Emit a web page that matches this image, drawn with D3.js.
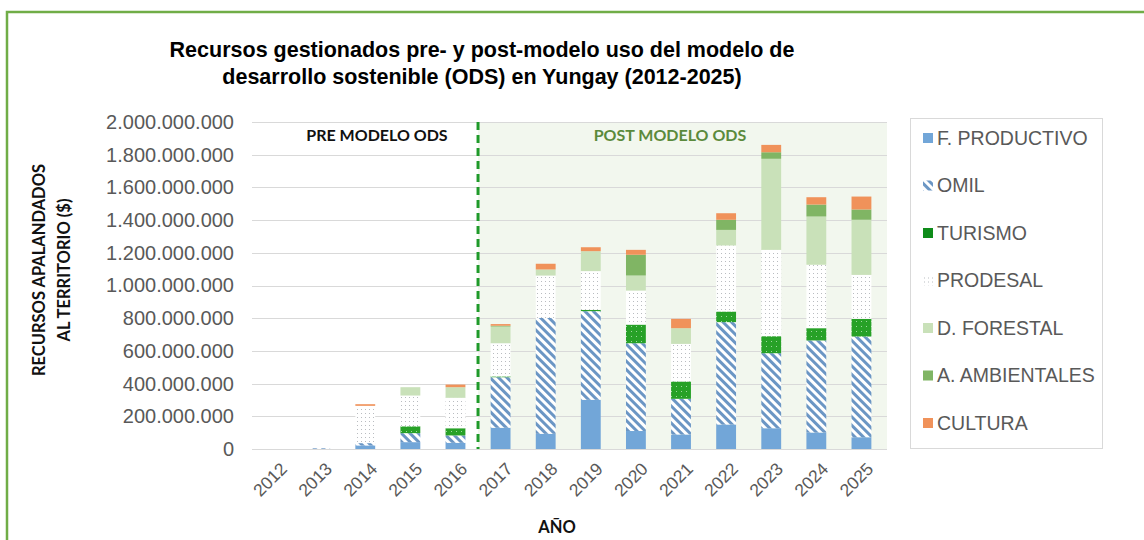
<!DOCTYPE html>
<meta charset="utf-8">
<script src="https://d3js.org/d3.v7.min.js"></script>
<style>
  body { margin: 0; background: #fff; }
  text { font-family: "Liberation Sans", Arial, sans-serif; }
</style>
<div id="chart"></div>
<script>
// data (millones de pesos)
var years = ["2012","2013","2014","2015","2016","2017","2018","2019","2020","2021","2022","2023","2024","2025"];
var fProductivo = [0, 0, 22, 42, 38, 130, 93, 301, 110, 89, 150, 127, 101, 72];
var omil        = [0, 5, 14, 55, 45, 309, 709, 542, 537, 218, 626, 459, 563, 616];
var turismo     = [0, 0, 0, 42, 44, 5, 0, 8, 114, 106, 65, 104, 75, 108];
var prodesal    = [0, 3, 228, 188, 186, 203, 259, 237, 208, 230, 404, 528, 388, 269];
var forestal    = [0, 0, 0, 51, 65, 102, 37, 122, 92, 96, 95, 557, 295, 337];
var ambientales = [0, 0, 0, 0, 0, 5, 0, 0, 127, 0, 62, 40, 73, 63];
var cultura     = [0, 0, 10, 0, 16, 10, 35, 24, 30, 57, 40, 45, 45, 79];
var seriesNames = ["F. PRODUCTIVO","OMIL","TURISMO","PRODESAL","D. FORESTAL","A. AMBIENTALES","CULTURA"];
var yTicks = [0, 2e8, 4e8, 6e8, 8e8, 1e9, 1.2e9, 1.4e9, 1.6e9, 1.8e9, 2e9];

var allSeries = [fProductivo, omil, turismo, prodesal, forestal, ambientales, cultura];
var rows = years.map(function(y, i) {
  var r = {year: y};
  seriesNames.forEach(function(n, k) { r[n] = allSeries[k][i] * 1e6; });
  return r;
});

var W = 1144, H = 540;
var svg = d3.select("#chart").append("svg").attr("width", W).attr("height", H);
svg.append("rect").attr("width", W).attr("height", H).attr("fill", "#fff");

// patterns
var defs = svg.append("defs");
var pOmil = defs.append("pattern").attr("id", "pOmil").attr("patternUnits", "userSpaceOnUse")
  .attr("width", 6).attr("height", 6).attr("patternTransform", "rotate(-45)");
pOmil.append("rect").attr("width", 6).attr("height", 6).attr("fill", "#fff");
pOmil.append("rect").attr("width", 3).attr("height", 6).attr("fill", "#6b96c4");

var pTur = defs.append("pattern").attr("id", "pTur").attr("patternUnits", "userSpaceOnUse")
  .attr("width", 5).attr("height", 5);
pTur.append("rect").attr("width", 5).attr("height", 5).attr("fill", "#27a127");
pTur.append("rect").attr("x", 1).attr("y", 1).attr("width", 1).attr("height", 1).attr("fill", "#9fd89f");

var pPro = defs.append("pattern").attr("id", "pPro").attr("patternUnits", "userSpaceOnUse")
  .attr("width", 4).attr("height", 4);
pPro.append("rect").attr("width", 4).attr("height", 4).attr("fill", "#fff");
pPro.append("rect").attr("x", 1).attr("y", 1).attr("width", 1).attr("height", 1).attr("fill", "#b9bcc0");

var fills = {
  "F. PRODUCTIVO": "#72a6d8",
  "OMIL": "url(#pOmil)",
  "TURISMO": "url(#pTur)",
  "PRODESAL": "url(#pPro)",
  "D. FORESTAL": "#c9e1b9",
  "A. AMBIENTALES": "#80b564",
  "CULTURA": "#f0925a"
};

// frame
svg.append("path").attr("d", "M7,600 L7,12 L1200,12")
  .attr("fill", "none").attr("stroke", "#70ad47").attr("stroke-width", 2.5);

// scales
var x = d3.scaleBand().domain(years).range([252.5, 884]).paddingInner(0.56).paddingOuter(0.28);
var y = d3.scaleLinear().domain([0, 2e9]).range([449, 122]);

// post-model shading
var splitX = x("2017") - (x.step() - x.bandwidth()) / 2;
svg.append("rect").attr("x", splitX).attr("y", y(2e9)).attr("width", 887 - splitX)
  .attr("height", y(0) - y(2e9)).attr("fill", "#f2f7ee");

// grid
var loc = d3.formatLocale({decimal: ",", thousands: ".", grouping: [3], currency: ["$", ""]});
var fmt = loc.format(",.0f");
svg.append("g").selectAll("line").data(yTicks).join("line")
  .attr("x1", 252).attr("x2", 887)
  .attr("y1", function(d) { return Math.round(y(d)) + 0.5; })
  .attr("y2", function(d) { return Math.round(y(d)) + 0.5; })
  .attr("stroke", "#d9d9d9").attr("stroke-width", 1);

var yAxis = svg.append("g").attr("transform", "translate(234,0)")
  .call(d3.axisLeft(y).tickValues(yTicks).tickFormat(fmt).tickSize(0).tickPadding(0));
yAxis.select(".domain").remove();
yAxis.selectAll("text").attr("font-size", 20).attr("fill", "#595959")
  .attr("font-family", "Liberation Sans, Arial, sans-serif");

// bars
var stack = d3.stack().keys(seriesNames)(rows);
svg.append("g").selectAll("g").data(stack).join("g")
  .attr("fill", function(d) { return fills[d.key]; })
  .selectAll("rect").data(function(d) { return d; }).join("rect")
  .attr("x", function(d) { return x(d.data.year); })
  .attr("width", x.bandwidth())
  .attr("y", function(d) { return y(d[1]); })
  .attr("height", function(d) { return Math.max(0, y(d[0]) - y(d[1])); });

// divider
svg.append("line").attr("x1", splitX).attr("x2", splitX).attr("y1", y(2e9)).attr("y2", y(0))
  .attr("stroke", "#1f9a2a").attr("stroke-width", 3).attr("stroke-dasharray", "8,5");

// x axis labels
var xAxis = svg.append("g").attr("transform", "translate(0,449)")
  .call(d3.axisBottom(x).tickSize(0).tickPadding(0));
xAxis.select(".domain").remove();
xAxis.selectAll("text")
  .attr("font-size", 17.5).attr("fill", "#595959")
  .attr("font-family", "Liberation Sans, Arial, sans-serif")
  .attr("text-anchor", "end").attr("dy", 0).attr("y", 0)
  .attr("transform", "translate(13,21) rotate(-45)");

// annotations
svg.append("text").attr("x", 377).attr("y", 141).attr("text-anchor", "middle")
  .style("font-family", "Lato, sans-serif").attr("font-weight", 700).attr("font-size", 16)
  .attr("fill", "#111").text("PRE MODELO ODS");
svg.append("text").attr("x", 670).attr("y", 141).attr("text-anchor", "middle")
  .style("font-family", "Lato, sans-serif").attr("font-weight", 700).attr("font-size", 16)
  .attr("fill", "#5b8a3c").text("POST MODELO ODS");

// title
var title = svg.append("text").attr("text-anchor", "middle").attr("font-weight", 700)
  .attr("font-size", 21.5).attr("fill", "#000");
title.append("tspan").attr("x", 482).attr("y", 57).text("Recursos gestionados pre- y post-modelo uso del modelo de");
title.append("tspan").attr("x", 482).attr("y", 84).text("desarrollo sostenible (ODS) en Yungay (2012-2025)");

// axis titles
var yt = svg.append("text").attr("transform", "translate(0,270) rotate(-90)")
  .attr("text-anchor", "middle").style("font-family", "Lato, sans-serif")
  .attr("font-weight", 700).attr("font-size", 16.5).attr("fill", "#111");
yt.append("tspan").attr("x", 0).attr("y", 45).text("RECURSOS APALANDADOS");
yt.append("tspan").attr("x", 0).attr("y", 70).text("AL TERRITORIO ($)");

svg.append("text").attr("x", 557).attr("y", 533).attr("text-anchor", "middle")
  .style("font-family", "Lato, sans-serif").attr("font-weight", 700).attr("font-size", 16.5)
  .attr("fill", "#111").text("AÑO");

// legend
svg.append("rect").attr("x", 910.5).attr("y", 118.5).attr("width", 192).attr("height", 330)
  .attr("fill", "#fff").attr("stroke", "#d9d9d9");
var leg = svg.append("g").selectAll("g").data(seriesNames).join("g")
  .attr("transform", function(d, i) { return "translate(923," + (138 + i * 47.5) + ")"; });
leg.append("rect").attr("x", 0).attr("y", -5).attr("width", 10).attr("height", 10)
  .attr("fill", function(d) { return d === "TURISMO" ? "#0e8c1a" : fills[d]; });
leg.append("text").attr("x", 14).attr("y", 0).attr("dy", "0.35em")
  .attr("font-size", 19.5).attr("fill", "#595959").text(function(d) { return d; });
</script>
